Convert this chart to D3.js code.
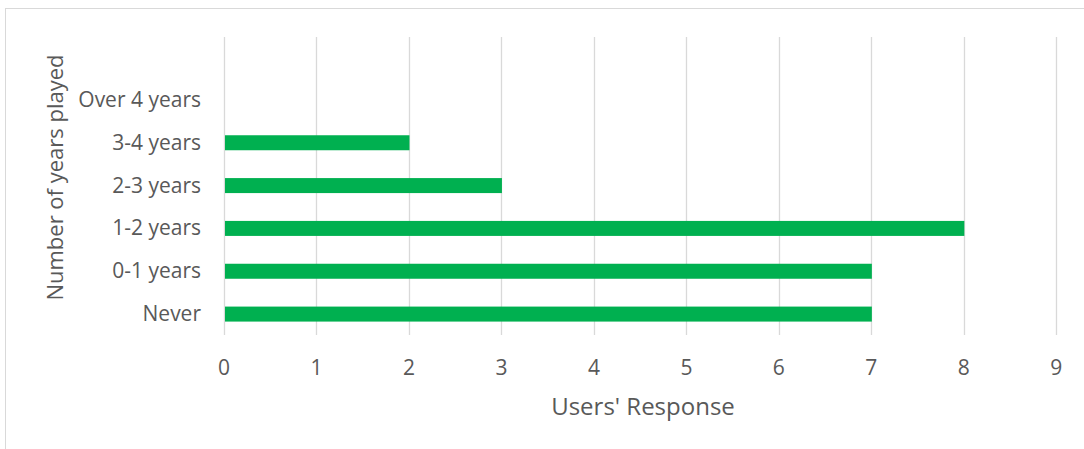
<!DOCTYPE html>
<html>
<head>
<meta charset="utf-8">
<script src="https://cdn.jsdelivr.net/npm/d3@7"></script>
<style>
  html, body { margin: 0; padding: 0; background: #fff; }
  svg { display: block; }
  text { font-family: "Open Sans", "Noto Sans", sans-serif; fill: #595959; }
</style>
</head>
<body>
<svg id="chart" width="1084" height="449"></svg>
<script>
const categories = ["Never", "0-1 years", "1-2 years", "2-3 years", "3-4 years", "Over 4 years"];
const values = [7, 7, 8, 3, 2, 0];
const xTicks = [0, 1, 2, 3, 4, 5, 6, 7, 8, 9];
const xTitle = "Users' Response";
const yTitle = "Number of years played";

const svg = d3.select("#chart");

// chart frame
svg.append("rect")
  .attr("x", 5.5).attr("y", 8.5)
  .attr("width", 1200).attr("height", 600)
  .attr("fill", "none").attr("stroke", "#D9D9D9").attr("stroke-width", 1);

const x = d3.scaleLinear().domain([0, 9]).range([224, 1056.3]);
const y = d3.scaleBand().domain(categories).range([335.5, 78.5]).padding(0);

const gridTop = 37, gridBottom = 335;

// gridlines
svg.append("g").selectAll("line").data(xTicks).join("line")
  .attr("x1", d => Math.round(x(d)) + 0.5).attr("x2", d => Math.round(x(d)) + 0.5)
  .attr("y1", gridTop).attr("y2", gridBottom)
  .attr("stroke", "#D9D9D9").attr("stroke-width", 1.3);

// bars
const barH = 15;
svg.append("g").selectAll("rect").data(categories).join("rect")
  .attr("x", x(0) + 1)
  .attr("y", d => y(d) + y.bandwidth() / 2 - barH / 2)
  .attr("width", (d, i) => Math.max(0, x(values[i]) - x(0) - 0.5))
  .attr("height", barH)
  .attr("fill", "#00B050");

// x tick labels
svg.append("g").selectAll("text").data(xTicks).join("text")
  .attr("x", d => x(d)).attr("y", 375)
  .attr("text-anchor", "middle")
  .attr("font-size", 21)
  .text(d => d);

// category labels
svg.append("g").selectAll("text").data(categories).join("text")
  .attr("x", 201)
  .attr("y", d => y(d) + y.bandwidth() / 2 + 7)
  .attr("text-anchor", "end")
  .attr("font-size", 21)
  .text(d => d);

// axis titles
svg.append("text")
  .attr("x", 643).attr("y", 415)
  .attr("text-anchor", "middle")
  .attr("font-size", 24)
  .text(xTitle);

svg.append("text")
  .attr("transform", "translate(63,177.5) rotate(-90)")
  .attr("text-anchor", "middle")
  .attr("font-size", 22)
  .text(yTitle);
</script>
</body>
</html>
